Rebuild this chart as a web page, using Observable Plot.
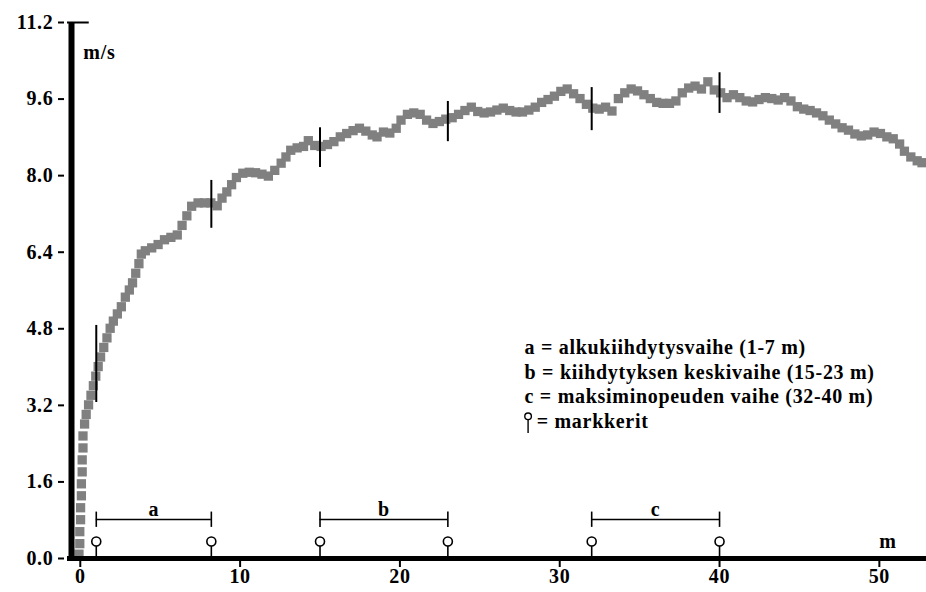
<!DOCTYPE html>
<html>
<head>
<meta charset="utf-8">
<script src="https://cdn.jsdelivr.net/npm/d3@7"></script>
<script src="https://cdn.jsdelivr.net/npm/@observablehq/plot@0.6"></script>
<style>
  html, body { margin: 0; padding: 0; background: #fff; }
  #chart { width: 926px; height: 592px; }
  #chart svg text { letter-spacing: 0.7px; }
</style>
</head>
<body>
<div id="chart"></div>
<script>
// distance (m) and speed (m/s)
const dist = [-0.05,0,0,0.05,0.05,0.1,0.1,0.15,0.15,0.2,0.2,0.3,0.4,0.55,0.7,0.85,1.0,1.15,1.3,1.5,1.7,1.9,2.1,2.35,2.6,2.85,3.1,3.3,3.5,3.7,3.85,4.1,4.5,4.9,5.3,5.7,6.1,6.4,6.7,7.0,7.4,7.8,8.2,8.6,8.9,9.2,9.5,9.8,10.2,10.6,11.0,11.4,11.8,12.2,12.6,12.9,13.2,13.6,14.0,14.3,14.7,15.1,15.5,15.9,16.3,16.7,17.1,17.5,17.9,18.3,18.6,19.0,19.4,19.8,20.1,20.5,20.9,21.3,21.7,22.1,22.5,22.9,23.3,23.7,24.1,24.5,24.9,25.3,25.7,26.1,26.5,26.9,27.3,27.7,28.1,28.5,28.9,29.3,29.7,30.1,30.5,30.9,31.3,31.7,32.1,32.5,32.9,33.3,33.7,34.1,34.5,34.9,35.3,35.7,36.1,36.5,36.9,37.3,37.7,38.1,38.5,38.9,39.3,39.7,40.1,40.5,40.9,41.3,41.7,42.1,42.5,42.9,43.3,43.7,44.1,44.5,44.9,45.3,45.7,46.1,46.5,46.9,47.3,47.7,48.1,48.5,48.9,49.3,49.7,50.1,50.5,50.9,51.3,51.6,52.0,52.4,52.7];
const speed = [0.08,0.3,0.55,0.8,1.05,1.3,1.55,1.8,2.05,2.3,2.55,2.8,3.0,3.2,3.4,3.6,3.8,4.0,4.2,4.4,4.6,4.8,4.95,5.1,5.25,5.45,5.6,5.75,5.95,6.15,6.35,6.42,6.48,6.55,6.65,6.7,6.75,6.95,7.15,7.35,7.42,7.42,7.42,7.36,7.52,7.65,7.8,7.95,8.04,8.06,8.05,8.02,7.98,8.1,8.25,8.38,8.52,8.57,8.6,8.72,8.62,8.6,8.64,8.7,8.8,8.87,8.93,8.98,8.92,8.84,8.8,8.9,8.88,8.98,9.15,9.27,9.3,9.27,9.15,9.08,9.12,9.17,9.2,9.27,9.35,9.42,9.33,9.3,9.32,9.36,9.4,9.35,9.32,9.32,9.36,9.42,9.52,9.58,9.65,9.75,9.8,9.7,9.6,9.48,9.4,9.38,9.42,9.34,9.6,9.72,9.8,9.76,9.68,9.6,9.52,9.5,9.5,9.55,9.72,9.82,9.86,9.8,9.95,9.78,9.72,9.62,9.68,9.62,9.55,9.53,9.58,9.62,9.6,9.57,9.62,9.55,9.43,9.38,9.35,9.3,9.24,9.15,9.07,8.99,8.94,8.86,8.82,8.84,8.9,8.87,8.8,8.76,8.65,8.5,8.38,8.3,8.26];

// marker positions (m) and the short vertical bars crossing the curve
const markX = [1, 8.2, 15, 23, 32, 40];
const markLo = [3.26, 6.9, 8.17, 8.71, 8.94, 9.3];
const markHi = [4.87, 7.9, 9.0, 9.55, 9.84, 10.15];

// phases
const phaseName = ["a", "b", "c"];
const phaseStart = [1, 15, 32];
const phaseEnd = [8.2, 23, 40];

// ticks
const yTicks = [0, 1.6, 3.2, 4.8, 6.4, 8.0, 9.6, 11.2];
const xTicks = [0, 10, 20, 30, 40, 50];

// legend text
const legendLines = [
  "a = alkukiihdytysvaihe (1-7 m)",
  "b = kiihdytyksen keskivaihe (15-23 m)",
  "c = maksiminopeuden vaihe (32-40 m)"
];
const legendMarker = "= markkerit";
const yUnit = "m/s";
const xUnit = "m";

const points = dist.map((d, i) => ({x: d, y: speed[i]}));
const marks = markX.map((x, i) => ({x, lo: markLo[i], hi: markHi[i]}));
const phases = phaseName.map((n, i) => ({n, x1: phaseStart[i], x2: phaseEnd[i], xm: (phaseStart[i] + phaseEnd[i]) / 2}));

const X0 = -0.55, X1 = 52.95;
const bracketY = 0.815, capLo = 0.65, capHi = 0.97, labelY = 1.03;
const pinY = 0.355, stemTop = 0.26;
const legX = 27.8, legY0 = 4.40, legStep = 0.51;
// half size of a data square in data units (about 4.5 px each way)
const hx = 0.29, hy = 0.097;

const chart = Plot.plot({
  width: 926,
  height: 592,
  marginLeft: 71,
  marginRight: 0,
  marginTop: 22,
  marginBottom: 34,
  x: {domain: [X0, X1]},
  y: {domain: [0, 11.2]},
  style: {fontFamily: "'Liberation Serif', 'Times New Roman', serif", fontSize: "20px", fontWeight: "bold", background: "#fff", color: "#000", overflow: "visible"},
  marks: [
    Plot.axisY(yTicks, {tickSize: 6, dx: -7, tickPadding: 5, strokeWidth: 2, tickFormat: d => d.toFixed(1), label: null}),
    Plot.axisX(xTicks, {tickSize: 9, tickPadding: 1, strokeWidth: 2, label: null}),
    // data squares
    Plot.rect(points, {x1: d => d.x - hx, x2: d => d.x + hx, y1: d => d.y - hy, y2: d => d.y + hy, fill: "#808080", inset: 0}),
    // axis lines
    Plot.ruleY([0], {x1: X0 - 0.25, x2: X1, strokeWidth: 5, stroke: "#000"}),
    Plot.ruleX([X0], {y1: 0, y2: 11.2, strokeWidth: 6, stroke: "#000"}),
    Plot.ruleY([11.2], {x1: X0 - 0.25, x2: 0.56, strokeWidth: 2, stroke: "#000"}),
    // vertical bars on the curve
    Plot.ruleX(marks, {x: "x", y1: "lo", y2: "hi", stroke: "#000", strokeWidth: 2}),
    // phase brackets
    Plot.ruleY(phases, {x1: "x1", x2: "x2", y: () => bracketY, stroke: "#000", strokeWidth: 1.6}),
    Plot.ruleX(phases, {x: "x1", y1: () => capLo, y2: () => capHi, stroke: "#000", strokeWidth: 1.6}),
    Plot.ruleX(phases, {x: "x2", y1: () => capLo, y2: () => capHi, stroke: "#000", strokeWidth: 1.6}),
    Plot.text(phases, {x: "xm", y: () => labelY, text: "n", fill: "#000"}),
    // pins (markers)
    Plot.ruleX(markX, {x: d => d, y1: 0, y2: stemTop, stroke: "#000", strokeWidth: 1.6}),
    Plot.dot(markX, {x: d => d, y: pinY, r: 4.5, fill: "#fff", stroke: "#000", strokeWidth: 1.6}),
    // unit labels
    Plot.text([yUnit], {x: 0.19, y: 10.58, text: d => d, textAnchor: "start", fill: "#000"}),
    Plot.text([xUnit], {x: 50.0, y: 0.36, text: d => d, textAnchor: "start", fill: "#000"}),
    // legend
    Plot.text(legendLines, {x: legX, y: (d, i) => legY0 - i * legStep, text: d => d, textAnchor: "start", fill: "#000"}),
    Plot.text([legendMarker], {x: legX + 0.76, y: legY0 - 3 * legStep, text: d => d, textAnchor: "start", fill: "#000"}),
    Plot.ruleX([legX + 0.22], {y1: legY0 - 3 * legStep - 0.26, y2: legY0 - 3 * legStep + 0.02, stroke: "#000", strokeWidth: 1.4}),
    Plot.dot([legX + 0.22], {x: d => d, y: legY0 - 3 * legStep + 0.1, r: 3.3, fill: "#fff", stroke: "#000", strokeWidth: 1.4})
  ]
});
document.getElementById("chart").appendChild(chart);
</script>
</body>
</html>
